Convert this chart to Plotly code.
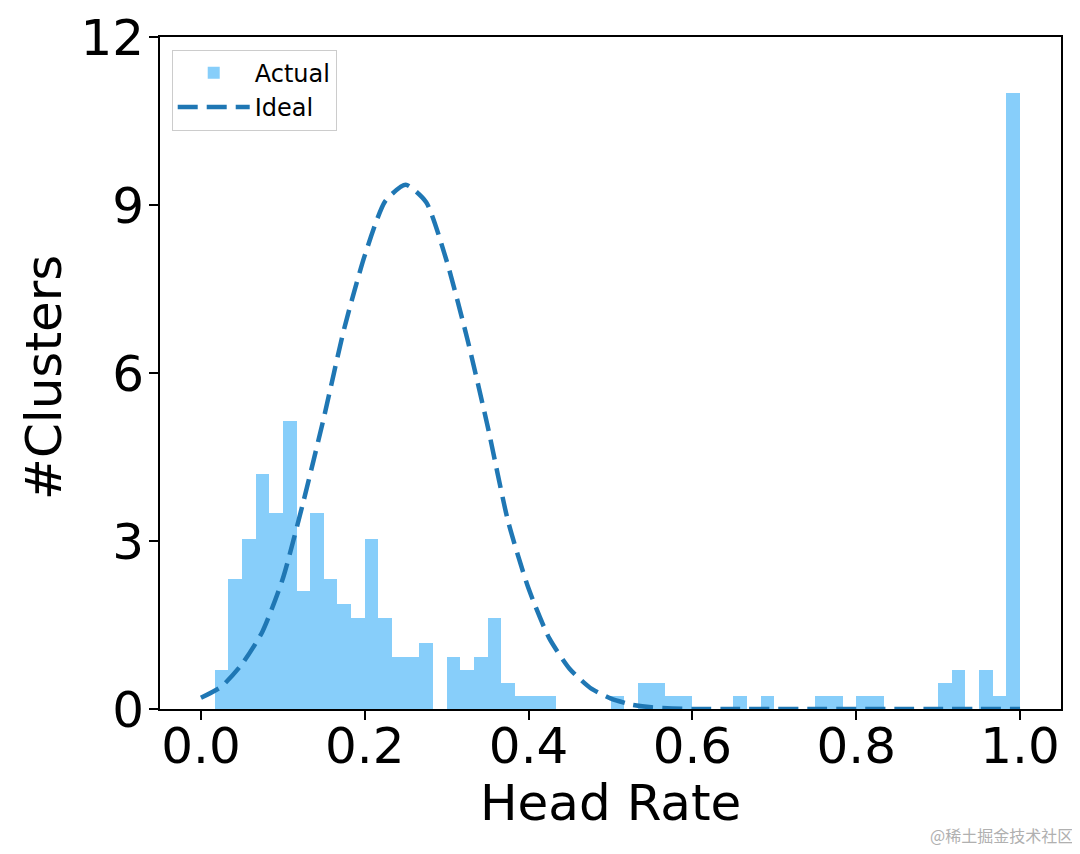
import numpy as np
import plotly.graph_objects as go

# Histogram (density) heights for 60 equal bins on [0, 1]
bin_edges = np.linspace(0.0, 1.0, 61)
actual_heights = [
    0.00, 0.70, 2.33, 3.03, 4.20, 3.50, 5.14, 2.10, 3.50, 2.33,
    1.87, 1.63, 3.03, 1.63, 0.93, 0.93, 1.17, 0.00, 0.93, 0.70,
    0.93, 1.63, 0.47, 0.23, 0.23, 0.23, 0.00, 0.00, 0.00, 0.00,
    0.23, 0.00, 0.47, 0.47, 0.23, 0.23, 0.00, 0.00, 0.00, 0.23,
    0.00, 0.23, 0.00, 0.00, 0.00, 0.23, 0.23, 0.00, 0.23, 0.23,
    0.00, 0.00, 0.00, 0.00, 0.47, 0.70, 0.00, 0.70, 0.23, 11.00,
]

# Ideal curve
ideal_x = [0.0, 0.025, 0.05, 0.075, 0.1, 0.125, 0.15, 0.175, 0.2, 0.225,
           0.25, 0.275, 0.3, 0.325, 0.35, 0.375, 0.4, 0.425, 0.45, 0.475,
           0.5, 0.525, 0.55, 0.575, 0.6, 0.65, 0.7, 0.75, 0.8, 0.85,
           0.9, 0.95, 1.0]
ideal_y = [0.20, 0.40, 0.80, 1.38, 2.33, 3.70, 5.20, 6.80, 8.10, 9.07,
           9.36, 9.05, 8.00, 6.62, 5.05, 3.35, 2.15, 1.27, 0.72, 0.38,
           0.19, 0.08, 0.03, 0.01, 0.00, 0.00, 0.00, 0.00, 0.00, 0.00,
           0.00, 0.00, 0.00]

y_ticks = [0, 3, 6, 9, 12]
x_ticks = [0.0, 0.2, 0.4, 0.6, 0.8, 1.0]
x_tick_labels = ["0.0", "0.2", "0.4", "0.6", "0.8", "1.0"]

centers = (bin_edges[:-1] + bin_edges[1:]) / 2
widths = np.diff(bin_edges)

FONT = "DejaVu Sans, Liberation Sans, sans-serif"

fig = go.Figure()
fig.add_trace(go.Bar(
    x=centers, y=actual_heights, width=widths,
    marker=dict(color="#87CEFA", line=dict(width=0)),
    name="Actual", legendgroup="a",
))
fig.add_trace(go.Scatter(
    x=ideal_x, y=ideal_y, mode="lines",
    line=dict(color="#1f77b4", width=4.5, dash="20px,9px", shape="spline", smoothing=0.6),
    name="Ideal", legendgroup="b",
))

# page body has an 8px margin, so the figure is sized/offset to compensate
fig.update_layout(
    width=1072, height=846,
    margin=dict(l=152, r=19, t=29, b=145),
    plot_bgcolor="white", paper_bgcolor="white",
    bargap=0,
    font=dict(family=FONT, color="black"),
    showlegend=True,
    legend=dict(
        x=0.013, y=0.981, xanchor="left", yanchor="top",
        bgcolor="white", bordercolor="#cccccc", borderwidth=1,
        font=dict(size=24, family=FONT, color="black"),
        itemwidth=72, traceorder="normal", tracegroupgap=6,
    ),
    xaxis=dict(
        range=[-0.05, 1.05], tickvals=x_ticks, ticktext=x_tick_labels,
        showgrid=False, zeroline=False, automargin=False,
        showline=True, linecolor="black", linewidth=2, mirror=True,
        ticks="outside", ticklen=9, tickwidth=2, tickcolor="black",
        ticklabelstandoff=-17,
        tickfont=dict(size=50, family=FONT, color="black"),
    ),
    yaxis=dict(
        range=[0, 12], tickvals=y_ticks,
        showgrid=False, zeroline=False, automargin=False,
        showline=True, linecolor="black", linewidth=2, mirror=True,
        ticks="outside", ticklen=9, tickwidth=2, tickcolor="black",
        ticklabelstandoff=-5,
        tickfont=dict(size=50, family=FONT, color="black"),
    ),
)

fig.add_annotation(
    text="Head Rate", xref="paper", yref="paper",
    x=0.5, y=-0.140, xanchor="center", yanchor="middle",
    showarrow=False, font=dict(size=50, family=FONT, color="black"),
)
fig.add_annotation(
    text="#Clusters", xref="paper", yref="paper",
    x=-0.1287, y=0.4926, xanchor="center", yanchor="middle",
    textangle=-90, showarrow=False, font=dict(size=50, family=FONT, color="black"),
)
fig.add_annotation(
    text="@稀土掘金技术社区", xref="paper", yref="paper",
    x=1.0155, y=-0.1875, xanchor="right", yanchor="middle",
    showarrow=False,
    font=dict(size=16, family="Noto Sans CJK SC", color="#b0b0b0"),
)

fig.write_html("out.html")
